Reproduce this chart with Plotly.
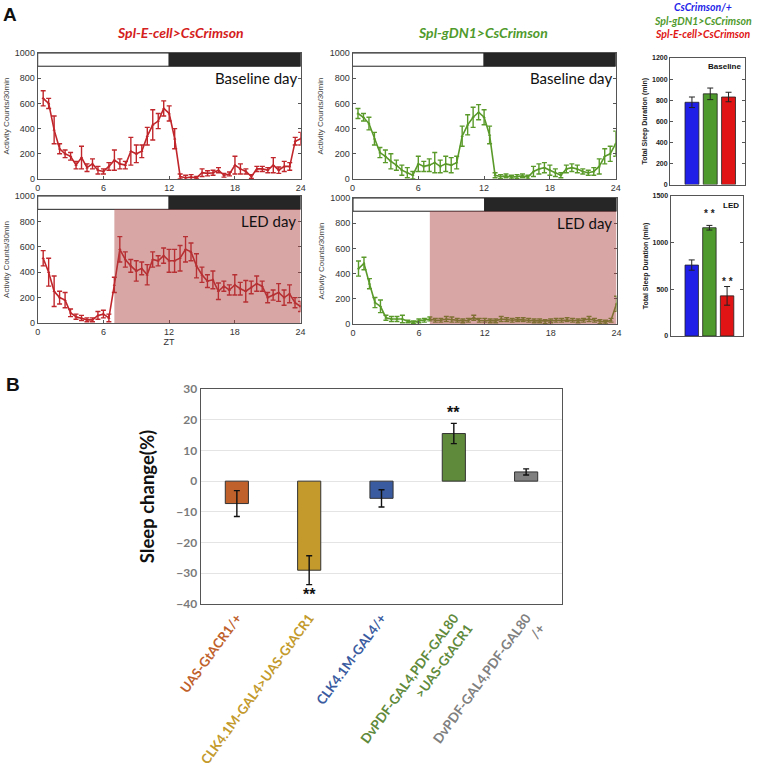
import plotly.graph_objects as go

W, H = 757, 771

# ---- Panel A: activity profiles (ZT, counts per 30 min) ----
zt = [0.5 * i for i in range(1, 49)]

ecell_base = [640, 600, 390, 240, 200, 180, 110, 170, 90, 120,
              70, 60, 100, 150, 120, 110, 220, 200, 220, 340,
              430, 460, 560, 520, 320, 20, 10, 15, 10, 50,
              45, 50, 70, 30, 40, 110, 80, 60, 20, 80,
              80, 70, 110, 70, 100, 100, 300, 320]
ecell_base_err = [60, 40, 110, 40, 30, 30, 30, 90, 30, 40,
                  30, 20, 30, 80, 40, 30, 110, 70, 50, 70,
                  120, 60, 60, 60, 80, 20, 20, 20, 10, 30,
                  20, 20, 20, 15, 15, 70, 40, 20, 15, 20,
                  20, 20, 60, 25, 40, 30, 30, 50]
ecell_led = [510, 400, 250, 200, 180, 80, 50, 40, 25, 25,
             60, 70, 40, 300, 580, 500, 450, 410, 430, 380,
             500, 490, 530, 490, 490, 510, 580, 560, 450, 380,
             330, 340, 250, 290, 260, 300, 270, 250, 280, 310,
             290, 200, 220, 240, 200, 230, 160, 130]
ecell_led_err = [60, 110, 120, 50, 60, 30, 20, 20, 15, 15,
                 30, 30, 30, 60, 100, 60, 50, 80, 50, 80,
                 60, 40, 60, 90, 90, 100, 100, 70, 95, 60,
                 50, 70, 65, 40, 40, 80, 50, 85, 50, 60,
                 40, 40, 40, 70, 60, 70, 40, 40]
gdn1_base = [520, 490, 440, 320, 210, 180, 140, 110, 70, 50,
             30, 120, 100, 110, 130, 100, 120, 110, 130, 340,
             430, 490, 530, 490, 350, 30, 20, 25, 15, 20,
             25, 15, 60, 80, 90, 70, 50, 30, 80, 90,
             80, 60, 50, 60, 100, 180, 200, 280]
gdn1_base_err = [40, 30, 50, 50, 40, 50, 60, 40, 40, 40,
                 30, 60, 40, 50, 80, 50, 60, 60, 50, 80,
                 80, 80, 60, 60, 70, 20, 15, 15, 15, 15,
                 15, 15, 40, 40, 40, 40, 30, 20, 30, 30,
                 30, 20, 20, 30, 60, 60, 60, 100]
gdn1_led = [440, 480, 320, 170, 140, 50, 40, 40, 40, 20,
            15, 25, 30, 40, 30, 30, 40, 35, 30, 25,
            30, 50, 30, 30, 25, 25, 40, 35, 30, 35,
            35, 30, 25, 25, 20, 25, 30, 30, 35, 30,
            25, 30, 40, 30, 20, 15, 30, 160]
gdn1_led_err = [60, 50, 40, 40, 50, 20, 20, 20, 30, 10,
                10, 15, 15, 15, 15, 15, 20, 20, 15, 15,
                15, 20, 15, 15, 15, 15, 20, 15, 15, 15,
                15, 15, 15, 15, 15, 15, 15, 15, 15, 15,
                15, 15, 20, 15, 15, 15, 15, 60]

# ---- Panel A: total sleep ----
genotypes_a = ["CsCrimson/+", "Spl-gDN1>CsCrimson", "Spl-E-cell>CsCrimson"]
colors_a = ["#1f1fe8", "#4f9a2c", "#e01414"]
sleep_base = [780, 860, 830]
sleep_base_err = [50, 55, 45]
sleep_led = [760, 1160, 430]
sleep_led_err = [55, 25, 100]

# ---- Panel B ----
genotypes_b = ["UAS-GtACR1/+", "CLK4.1M-GAL4>UAS-GtACR1", "CLK4.1M-GAL4/+",
               "DvPDF-GAL4,PDF-GAL80<br>>UAS-GtACR1", "DvPDF-GAL4,PDF-GAL80<br>/+"]
colors_b = ["#c0612b", "#c39a2b", "#3a5ba0", "#5f8a3b", "#808080"]
sleep_change = [-7.3, -29.0, -5.6, 15.5, 3.0]
sleep_change_err = [4.2, 4.7, 2.8, 3.3, 1.0]

RED = "#c0262b"
GREEN = "#5a9a2a"
GREY = "#555555"


def dom(x0, x1, y0, y1):
    return [x0 / W, x1 / W], [1 - y1 / H, 1 - y0 / H]


fig = go.Figure()
layout = dict(width=W, height=H, margin=dict(l=0, r=0, t=0, b=0, autoexpand=False),
              paper_bgcolor="white", plot_bgcolor="white", showlegend=False,
              shapes=[], annotations=[])

line_panels = [
    (1, (37.7, 300.7, 53, 179), ecell_base, ecell_base_err, RED, "Baseline day", False, False),
    (2, (37.7, 300.5, 196, 323), ecell_led, ecell_led_err, RED, "LED day", True, True),
    (3, (352.5, 615.7, 53, 179), gdn1_base, gdn1_base_err, GREEN, "Baseline day", False, False),
    (4, (353, 616.5, 198, 324), gdn1_led, gdn1_led_err, GREEN, "LED day", True, False),
]

for n, box, vals, errs, col, label, led, zt_title in line_panels:
    xd, yd = dom(*box)
    xs = "x" if n == 1 else f"x{n}"
    ys = "y" if n == 1 else f"y{n}"
    fig.add_trace(go.Scatter(
        x=zt, y=vals, mode="lines+markers", xaxis=xs, yaxis=ys,
        line=dict(color=col, width=1.6), marker=dict(size=3, color=col, symbol="triangle-up"),
        error_y=dict(type="data", array=errs, color=col, thickness=1.4, width=2.5)))
    axx = dict(domain=xd, anchor=ys, range=[0, 24], tickvals=[0, 6, 12, 18, 24],
               showline=True, linecolor=GREY, linewidth=1, mirror="ticks", ticks="inside",
               ticklen=3, tickcolor=GREY, showgrid=False, zeroline=False, automargin=False,
               tickfont=dict(family="Liberation Sans", size=9, color="#333"))
    if zt_title:
        axx["title"] = dict(text="ZT", font=dict(family="Liberation Sans", size=9, color="#333"), standoff=2)
    axy = dict(domain=yd, anchor=xs, range=[0, 1000], tickvals=[0, 200, 400, 600, 800, 1000],
               showline=True, linecolor=GREY, linewidth=1, mirror="ticks", ticks="inside",
               ticklen=3, tickcolor=GREY, showgrid=False, zeroline=False, automargin=False,
               tickfont=dict(family="Liberation Sans", size=9, color="#333"),
               title=dict(text="Activity Counts/30min", standoff=4,
                          font=dict(family="Liberation Sans", size=8, color="#444")))
    layout["xaxis" if n == 1 else f"xaxis{n}"] = axx
    layout["yaxis" if n == 1 else f"yaxis{n}"] = axy
    layout["shapes"] += [
        dict(type="rect", xref=xs, yref=ys, x0=0, x1=12, y0=895, y1=1000,
             fillcolor="white", line=dict(color="#222", width=1)),
        dict(type="rect", xref=xs, yref=ys, x0=12, x1=24, y0=895, y1=1000,
             fillcolor="#262626", line=dict(color="#222", width=1)),
    ]
    if led:
        layout["shapes"].append(dict(type="rect", xref=xs, yref=ys, x0=7, x1=24, y0=0, y1=895,
                                     fillcolor="rgba(172,62,62,0.46)", line=dict(width=0),
                                     layer="above"))
    layout["annotations"].append(dict(
        x=23.8, y=800, xref=xs, yref=ys, text=label, showarrow=False, xanchor="right",
        font=dict(family="Lato", size=15, color="#111")))

layout["annotations"] += [
    dict(x=180 / W, y=1 - 33 / H, xref="paper", yref="paper", showarrow=False,
         xanchor="center", yanchor="middle",
         text="<b><i>Spl-E-cell>CsCrimson</i></b>",
         font=dict(family="Lato", size=14, color="#d42020")),
    dict(x=483 / W, y=1 - 33 / H, xref="paper", yref="paper", showarrow=False,
         xanchor="center", yanchor="middle",
         text="<b><i>Spl-gDN1>CsCrimson</i></b>",
         font=dict(family="Lato", size=14, color="#4f9a2c")),
]
for i, (g, c) in enumerate(zip(genotypes_a, colors_a)):
    layout["annotations"].append(dict(
        x=703 / W, y=1 - (7 + 13.5 * i) / H, xref="paper", yref="paper", showarrow=False,
        xanchor="center", yanchor="middle",
        text=f"<b><i>{g}</i></b>", font=dict(family="Lato", size=10.5, color=c)))

# right bar charts
bar_panels = [
    (5, (670, 745, 58, 184.5), sleep_base, sleep_base_err, [0, 1200], list(range(0, 1201, 200)), "Baseline", []),
    (6, (670.5, 743, 196, 336), sleep_led, sleep_led_err, [0, 1500], [0, 500, 1000, 1500], "LED",
     [(1, 1310), (2, 580)]),
]
for n, box, vals, errs, rng, tv, label, stars in bar_panels:
    xd, yd = dom(*box)
    xs, ys = f"x{n}", f"y{n}"
    fig.add_trace(go.Bar(
        x=[0, 1, 2], y=vals, xaxis=xs, yaxis=ys, width=0.76,
        marker=dict(color=colors_a, line=dict(color="#222", width=0.8)),
        error_y=dict(type="data", array=errs, color="#222", thickness=1, width=3)))
    layout[f"xaxis{n}"] = dict(domain=xd, anchor=ys, range=[-1.2, 2.9], showticklabels=False,
                               ticks="", showline=True, linecolor=GREY, mirror=True,
                               showgrid=False, zeroline=False, automargin=False)
    layout[f"yaxis{n}"] = dict(domain=yd, anchor=xs, range=rng, tickvals=tv,
                               showline=True, linecolor=GREY, mirror="ticks", ticks="inside",
                               ticklen=3, tickcolor=GREY, showgrid=False, zeroline=False,
                               automargin=False,
                               tickfont=dict(family="Liberation Sans", size=7, color="#222",
                                             weight="bold"),
                               title=dict(text="<b>Total Sleep Duration (min)</b>", standoff=3,
                                          font=dict(family="Liberation Sans", size=7, color="#222")))
    layout["annotations"].append(dict(
        x=2.8, y=rng[1] * 0.93, xref=xs, yref=ys, text=f"<b>{label}</b>", showarrow=False,
        xanchor="right", font=dict(family="Liberation Sans", size=8, color="#111")))
    for sx, sy in stars:
        layout["annotations"].append(dict(
            x=sx, y=sy, xref=xs, yref=ys, text="<b>* *</b>", showarrow=False,
            font=dict(family="Liberation Sans", size=10, color="#222")))

# ---- Panel B ----
xd, yd = dom(200.7, 562.3, 389, 604)
fig.add_trace(go.Bar(
    x=list(range(5)), y=sleep_change, xaxis="x7", yaxis="y7", width=0.32,
    marker=dict(color=colors_b, line=dict(color="#333", width=1)),
    error_y=dict(type="data", array=sleep_change_err, color="#111", thickness=1.4, width=3)))
ticktext = [f'<span style="color:{c}">{g}</span>' for g, c in zip(genotypes_b, colors_b)]
layout["xaxis7"] = dict(domain=xd, anchor="y7", range=[-0.5, 4.5], tickvals=list(range(5)),
                        ticktext=ticktext, tickangle=-54, ticks="", showline=True,
                        linecolor="#555", linewidth=1.2, mirror=True, showgrid=False,
                        zeroline=False, automargin=False,
                        tickfont=dict(family="Lato", size=13.3, weight="bold"))
layout["yaxis7"] = dict(domain=yd, anchor="x7", range=[-40, 30], dtick=10,
                        showline=True, linecolor="#555", linewidth=1.2, mirror=True,
                        gridcolor="#e4e4e4", zeroline=False, ticks="", automargin=False,
                        tickfont=dict(family="Lato", size=12, color="#7a7a7a", weight="bold"),
                        title=dict(text="<b>Sleep change(%)</b>", standoff=16,
                                   font=dict(family="Lato", size=18.5, color="#111")))
layout["annotations"] += [
    dict(x=3, y=22.3, xref="x7", yref="y7", text="<b>**</b>", showarrow=False,
         font=dict(family="Liberation Sans", size=16, color="#111")),
    dict(x=1, y=-37, xref="x7", yref="y7", text="<b>**</b>", showarrow=False,
         font=dict(family="Liberation Sans", size=16, color="#111")),
    dict(x=10 / W, y=1 - 14 / H, xref="paper", yref="paper", text="<b>A</b>", showarrow=False,
         xanchor="center", yanchor="middle",
         font=dict(family="Liberation Sans", size=19, color="#111")),
    dict(x=13 / W, y=1 - 384 / H, xref="paper", yref="paper", text="<b>B</b>", showarrow=False,
         xanchor="center", yanchor="middle",
         font=dict(family="Liberation Sans", size=19, color="#111")),
]

fig.update_layout(**layout)
fig.write_html("out.html", config={"displayModeBar": False},
               post_script="document.body.style.margin='0';")
